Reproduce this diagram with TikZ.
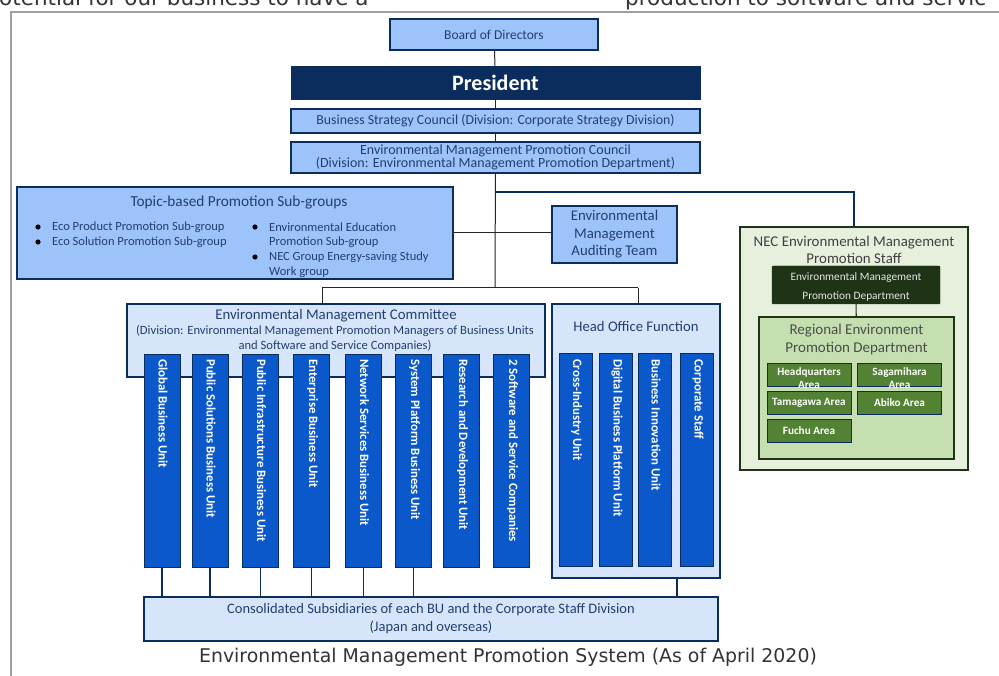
\documentclass[tikz,border=0pt]{standalone}
\usepackage{fontspec}
\setmainfont{Carlito}
\newfontfamily\webfont{DejaVu Sans}
\usepackage{tikz}
\usetikzlibrary{positioning}

\definecolor{boxblue}{HTML}{9CC3FA}
\definecolor{navy}{HTML}{0B2D5E}
\definecolor{paleblue}{HTML}{D6E5FA}
\definecolor{colblue}{HTML}{0A58CA}
\definecolor{txtnavy}{HTML}{233F72}
\definecolor{palegreen}{HTML}{E6F0DC}
\definecolor{darkgreen}{HTML}{1F3317}
\definecolor{midgreen}{HTML}{C5DFB1}
\definecolor{areagreen}{HTML}{548235}
\definecolor{webgray}{HTML}{333333}

\tikzset{
  bluebox/.style={draw=navy,line width=2pt,fill=boxblue,text=txtnavy,inner sep=0pt,align=center},
  palebox/.style={draw=navy,line width=2pt,fill=paleblue,text=txtnavy,inner sep=0pt,align=center},
  bucol/.style={draw=navy,line width=0.8pt,fill=colblue,inner sep=0pt,minimum height=213pt},
  butext/.style={rotate=-90,anchor=west,text=white,font=\fontsize{12.8}{14}\selectfont\bfseries,inner sep=0pt},
  areabox/.style={draw=navy,line width=0.8pt,fill=areagreen,text=white,inner sep=0pt,
    minimum width=84pt,minimum height=23pt,align=center,font=\fontsize{11.2}{13}\selectfont\bfseries},
  conn/.style={draw=black!85,line width=1pt}
}

\begin{document}
\begin{tikzpicture}[x=1pt,y=-1pt]
\useasboundingbox (0,0) rectangle (999,676);
% page frame and cut text of the web page
\draw[gray!75,line width=1.2pt] (11,680) -- (11,12) -- (1005,12);
\node[anchor=base west,inner sep=0pt,text=webgray,font=\webfont\fontsize{21.5}{24}\selectfont] (webl) at (-1,6) {otential for our business to have a};
\node[anchor=base west,inner sep=0pt,text=webgray,font=\webfont\fontsize{21.5}{24}\selectfont] (webr) at (625,6) {production to software and servic};

% top of the chart
\node[bluebox,minimum width=208pt,minimum height=31pt,font=\fontsize{13.5}{15}\selectfont] (board) at (494,34.5) {Board of Directors};
\node[draw=navy,fill=navy,text=white,minimum width=409pt,minimum height=33pt,inner sep=0pt,font=\fontsize{22}{24}\selectfont\bfseries] (pres) at (495.5,82.5) {President};
\node[bluebox,minimum width=409pt,minimum height=24pt,font=\fontsize{13.8}{15}\selectfont] (bsc) at (495.5,121) {Business Strategy Council (Division: Corporate Strategy Division)};
\node[bluebox,minimum width=409pt,minimum height=31pt,font=\fontsize{14}{13}\selectfont] (empc) at (495.5,157.5) {Environmental Management Promotion Council\\(Division: Environmental Management Promotion Department)};

\coordinate (hub1) at (495,192);
\coordinate (hub2) at (495,233);
\coordinate (hub3) at (495,288);
\draw[conn] (board) -- (pres);
\draw[conn] (pres) -- (bsc);
\draw[conn] (bsc) -- (empc);
\draw[conn] (empc) -- (hub3);

% topic-based sub-groups
\node[bluebox,minimum width=436pt,minimum height=92pt] (topic) at (235,233) {};
\node[text=txtnavy,font=\fontsize{15.3}{17}\selectfont] (topict) at (239,203) {Topic-based Promotion Sub-groups};
\foreach \y/\t [count=\i] in {227/Eco Product Promotion Sub-group,242/Eco Solution Promotion Sub-group}{
  \fill[black] (38,\y) circle (2.6pt);
  \node[anchor=west,inner sep=0pt,text=txtnavy,font=\fontsize{12.5}{14}\selectfont] (tl\i) at (52,\y) {\t};
}
\foreach \y/\t [count=\i] in {227/Environmental Education,242/Promotion Sub-group,257/NEC Group Energy-saving Study,272/Work group}{
  \node[anchor=west,inner sep=0pt,text=txtnavy,font=\fontsize{12.5}{14}\selectfont] (tr\i) at (269,\y) {\t};
}
\fill[black] (255,227) circle (2.6pt);
\fill[black] (255,257) circle (2.6pt);
\draw[conn] (topic.east |- hub2) -- (hub2);

% auditing team
\node[bluebox,minimum width=125pt,minimum height=57pt,font=\fontsize{14.8}{17.5}\selectfont] (audit) at (614.5,234.5) {Environmental\\Management\\Auditing Team};
\draw[conn] (hub2) -- (audit.west |- hub2);

% NEC promotion staff
\node[draw=darkgreen,line width=2.2pt,fill=palegreen,minimum width=228pt,minimum height=243pt] (staff) at (854,348.5) {};
\node[text=black!75,align=center,font=\fontsize{14.9}{17}\selectfont] (stafft) at (854,249.5) {NEC Environmental Management\\Promotion Staff};
\node[draw=darkgreen,fill=darkgreen,rounded corners=1pt,minimum width=168pt,minimum height=38pt,inner sep=0pt] (dept) at (856,285) {};
\node[text=white!90!black,align=center,inner sep=0pt,font=\fontsize{11.3}{19}\selectfont] (deptt) at (856,287) {Environmental Management\\Promotion Department};
\node[draw=darkgreen,line width=2.2pt,fill=midgreen,minimum width=195pt,minimum height=142pt] (region) at (856.5,388) {};
\node[text=black!70,align=center,font=\fontsize{15}{18}\selectfont] (regiont) at (856.5,340) {Regional Environment\\Promotion Department};
\draw[draw=navy,line width=1.2pt] (hub1) -- (hub1 -| staff.north) -- (staff.north);
\draw[draw=darkgreen,line width=1.2pt] (dept) -- (region);
\node[areabox] (hq) at (809,374.5) {};
\node[areabox] (saga) at (899.5,374.5) {};
\node[text=white,align=center,inner sep=0pt,font=\fontsize{11.2}{13}\selectfont\bfseries] (hqt) at (809,378) {Headquarters\\Area};
\node[text=white,align=center,inner sep=0pt,font=\fontsize{11.2}{13}\selectfont\bfseries] (sagat) at (899.5,378) {Sagamihara\\Area};
\node[areabox] (tama) at (809,403) {Tamagawa Area};
\node[areabox] (abiko) at (899.5,403) {Abiko Area};
\node[areabox] (fuchu) at (809,431) {Fuchu Area};

% committee and head office
\coordinate (cl) at (322,288);
\coordinate (cr) at (638,288);
\node[palebox,minimum width=418pt,minimum height=73pt] (comm) at (336,340.5) {};
\node[text=txtnavy,font=\fontsize{14.8}{16}\selectfont] (commt) at (336,316) {Environmental Management Committee};
\node[text=txtnavy,align=center,font=\fontsize{12.6}{15}\selectfont] (comms) at (335,338.5) {(Division: Environmental Management Promotion Managers of Business Units\\and Software and Service Companies)};
\node[palebox,minimum width=168pt,minimum height=274pt] (head) at (636,441) {};
\node[text=txtnavy,font=\fontsize{14.7}{16}\selectfont] (headt) at (636,326) {Head Office Function};
\draw[conn] (cl) -- (cr);
\draw[conn] (cl) -- (cl |- comm.north);
\draw[conn] (cr) -- (cr |- head.north);

\foreach \x/\t [count=\i] in {162/Global Business Unit,210/Public Solutions Business Unit,260.5/Public Infrastructure Business Unit,311.5/Enterprise Business Unit,363.5/Network Services Business Unit,413.5/System Platform Business Unit,461.5/Research and Development Unit,511.5/2 Software and Service Companies}{
  \node[bucol,minimum width=36pt] (bu\i) at (\x,460.5) {};
  \node[butext] (but\i) at (\x+1,359) {\t};
}
\foreach \x/\t [count=\i] in {575.5/Cross-Industry Unit,616/Digital Business Platform Unit,655/Business Innovation Unit,697/Corporate Staff}{
  \node[bucol,minimum width=33pt] (ho\i) at (\x,459.5) {};
  \node[butext] (hot\i) at (\x+1,359) {\t};
}

% subsidiaries
\node[palebox,minimum width=574pt,minimum height=44pt,font=\fontsize{14.5}{18}\selectfont] (cons) at (431,619) {Consolidated Subsidiaries of each BU and the Corporate Staff Division\\(Japan and overseas)};
\foreach \i in {1,...,6}
  \draw[draw=navy,line width=1.2pt] (bu\i.south) -- (bu\i.south |- cons.north);
\draw[draw=navy,line width=1.2pt] ([xshift=41pt]head.south) -- ([xshift=41pt]head.south |- cons.north);

% caption
\node[text=webgray,font=\webfont\fontsize{18.9}{22}\selectfont] (caption) at (508,657) {Environmental Management Promotion System (As of April 2020)};
\end{tikzpicture}
\end{document}
